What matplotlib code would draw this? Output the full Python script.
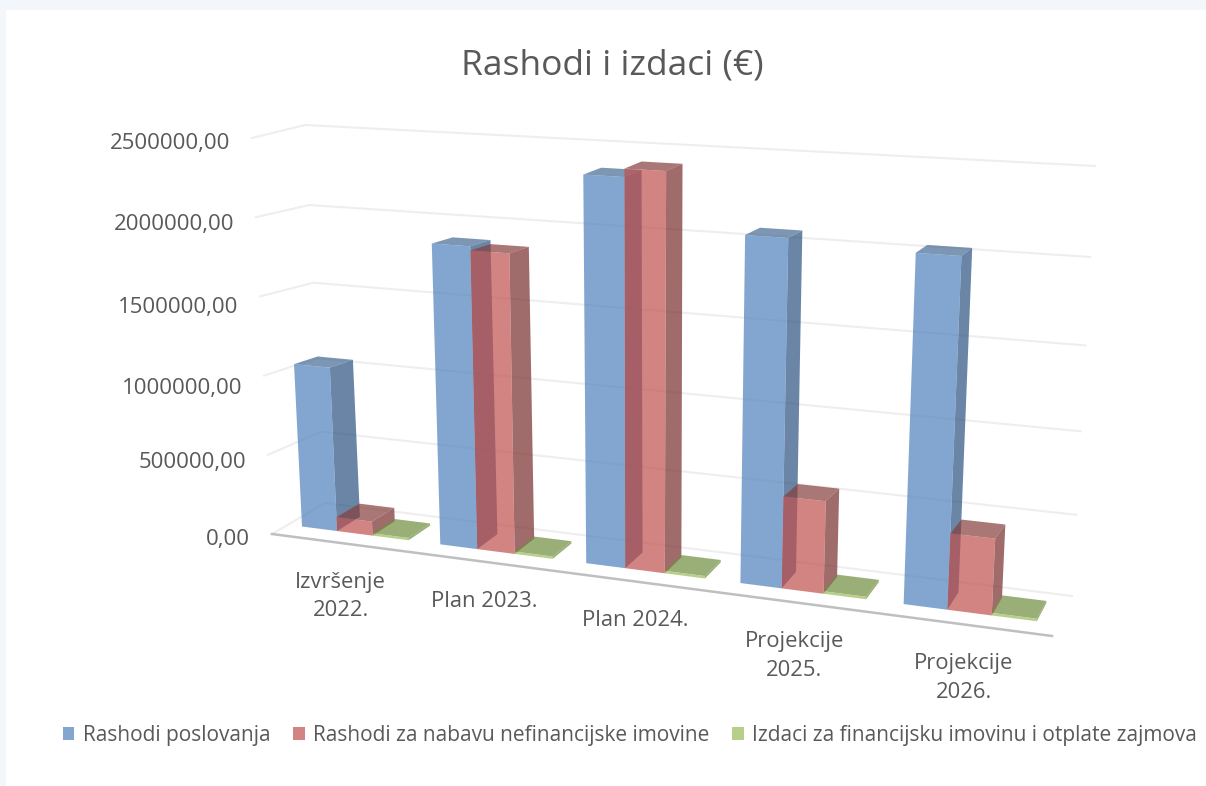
#!/usr/bin/env python3
"""Rashodi i izdaci: 3D clustered columns, drawn with a hand made perspective box."""
import numpy as np
import matplotlib; matplotlib.use("Agg"); import matplotlib.pyplot as plt
from matplotlib.patches import Polygon, Patch, Rectangle

plt.rcParams["font.family"] = ["Open Sans", "DejaVu Sans"]

categories = ["Izvršenje\n2022.", "Plan 2023.", "Plan 2024.", "Projekcije\n2025.", "Projekcije\n2026."]
rashodi_poslovanja = [1050000, 1885000, 2365000, 2070000, 2035000]
rashodi_nefinancijske = [90000, 1860000, 2415000, 550000, 445000]
izdaci_financijske = [15000, 15000, 15000, 15000, 15000]
series_names = ["Rashodi poslovanja", "Rashodi za nabavu nefinancijske imovine",
                "Izdaci za financijsku imovinu i otplate zajmova"]
yticks = [0, 500000, 1000000, 1500000, 2000000, 2500000]
VMAX = 2500000

# corners of the plot box in pixels: floor and top, front and back
FL, FR, BL, BR = map(np.array, [(272, 534), (1052, 636), (325, 503), (1072, 596)])
TFL, TFR, TBL, TBR = map(np.array, [(252, 138), (1076, 186), (305, 125), (1095, 166)])
PERSP = 1.15
D0, D1 = 0.30, 0.75  # depth range of the bars
GROUP = 0.155; MARGIN = 0.021  # in units of the category axis

GRID = "#EEEEEE"; TXT = "#595959"
# (base colour, darker colour for side, darker colour for top)
COLORS = [("#4F81BD", "#2C5180", "#456A94"),
          ("#C0504D", "#772D2D", "#853F3C"),
          ("#9BBB59", "#708D3E", "#708D3E")]

def project(t, v, d):
    s = t / (t + (1 - t) * PERSP)
    low = (1 - d) * ((1 - s) * FL + s * FR) + d * ((1 - s) * BL + s * BR)
    top = (1 - d) * ((1 - s) * TFL + s * TFR) + d * ((1 - s) * TBL + s * TBR)
    u = v / VMAX
    # far side of the box is squeezed towards the floor
    u = u / (u + (1 - u) * (1 + 0.074 * d))
    return low + (top - low) * u

def draw_bar(ax, t0, t1, v, cols):
    base, side, topc = cols
    faces = [
        (side, [project(t1, 0, D0), project(t1, 0, D1), project(t1, v, D1), project(t1, v, D0)]),
        (topc, [project(t0, v, D0), project(t1, v, D0), project(t1, v, D1), project(t0, v, D1)]),
        (base, [project(t0, 0, D0), project(t1, 0, D0), project(t1, v, D0), project(t0, v, D0)]),
    ]
    for c, pts in faces:
        ax.add_patch(Polygon(pts, closed=True, fc=c, ec="none", alpha=0.7, zorder=3))

def main():
    fig = plt.figure(figsize=(12.06, 7.86), dpi=100, facecolor="#F3F6FB")
    ax = fig.add_axes([0, 0, 1, 1])
    ax.set_xlim(0, 1206); ax.set_ylim(786, 0); ax.axis("off")
    ax.add_patch(Rectangle((6, 10), 1200, 776, fc="white", ec="none", zorder=0))

    # walls
    for v in yticks:
        p = np.array([project(0, v, 0), project(0, v, 1), project(1, v, 1)])
        ax.plot(p[:, 0], p[:, 1], color=GRID, lw=1.5, zorder=1)
    p = np.array([project(0, 0, 0), project(1, 0, 0)])
    ax.plot(p[:, 0], p[:, 1], color="#BFBFBF", lw=1.8, zorder=2)

    # y labels, Excel nudges them a bit
    nudge = [5, 8, 13, 11, 7, 5]
    for v, dy in zip(yticks, nudge):
        x, y = project(0, v, 0)
        lab = f"{v},00"
        ax.text(x - 22, y + dy, lab, ha="right", va="center", fontsize=16, color=TXT)

    data = [rashodi_poslovanja, rashodi_nefinancijske, izdaci_financijske]
    bar_w = GROUP / len(data)
    for i in range(len(categories)):
        for j, vals in enumerate(data):
            t0 = i * 0.2 + MARGIN + j * bar_w
            draw_bar(ax, t0, t0 + bar_w, vals[i], COLORS[j])

    # category labels under the front edge
    for i, lab in enumerate(categories):
        x, y = project(i * 0.2 + 0.1, 0, 0)
        ax.text(x, y + 29, lab, ha="center", va="top", fontsize=15.8, color=TXT, linespacing=1.45)

    ax.text(612, 65, "Rashodi i izdaci (€)", ha="center", va="center", fontsize=25.5, color=TXT)

    handles = [Patch(fc=c[0], alpha=0.7, ec="none") for c in COLORS]
    ax.legend(handles, series_names, ncol=3, loc="center", bbox_to_anchor=(630 / 1206, 1 - 735 / 786),
              frameon=False, fontsize=15, labelcolor=TXT, handlelength=0.55, handleheight=0.6,
              handletextpad=0.4, columnspacing=1.1)

    fig.savefig("out.png", dpi=100, facecolor=fig.get_facecolor())

if __name__ == "__main__":
    main()
